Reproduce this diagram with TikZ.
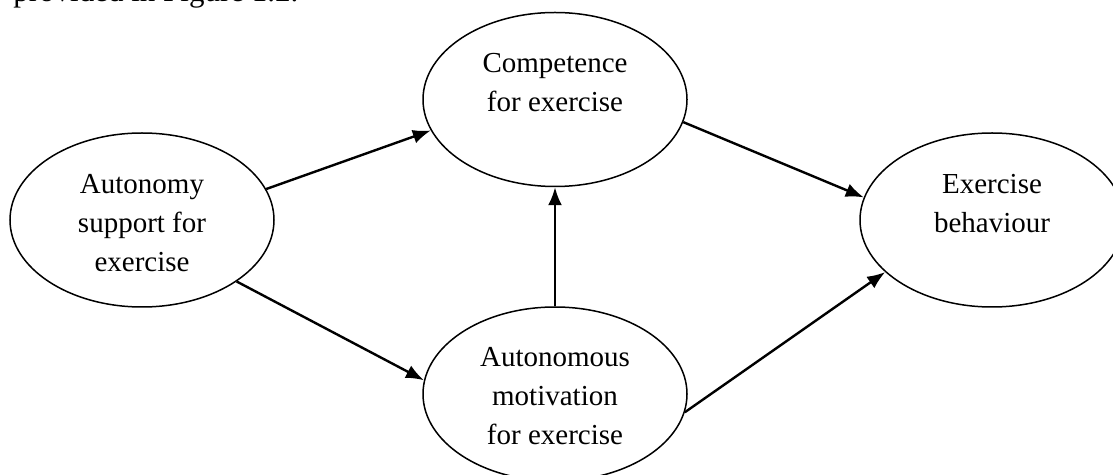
\documentclass[tikz,border=0pt]{standalone}
\usepackage{fontspec}
\setmainfont{Liberation Serif}
\usetikzlibrary{shapes.geometric,arrows.meta,positioning}

% lift the lines of a label inside its ellipse
\newcommand{\lifted}[2]{\raisebox{#1}[\height][\depth]{\begin{tabular}{@{}c@{}}#2\end{tabular}}}

\begin{document}
\begin{tikzpicture}[
    x=0.5pt, y=-0.5pt,
    font=\fontsize{14.5}{19.5}\selectfont,
    >={Latex[length=9pt,width=7pt]},
    construct/.style={ellipse, draw=black, line width=0.75pt,
                      minimum width=132pt, minimum height=87pt,
                      inner sep=0pt, align=center},
    arrow/.style={->, line width=1.2pt}
]
\useasboundingbox (0,0) rectangle (1113,475);

%–––– TEXT ABOVE –––––––––––––––––––––––––––––––––––
\node (lead) [anchor=base west, inner sep=0pt,
              font=\fontsize{15.5}{19}\selectfont] at (13,2) {provided in Figure 1.2.};

%–––– CONSTRUCTS –––––––––––––––––––––––––––––––––––
\node (auto)  [construct] at (142,220) {\lifted{-2.5pt}{Autonomy\\support for\\exercise}};
\node (motiv) [construct] at (555,394) {\lifted{-2pt}{Autonomous\\motivation\\for exercise}};
\node (comp)  [construct, above=59.5pt of motiv] {\lifted{7.5pt}{Competence\\for exercise}};
\node (beh)   [construct] at (992,220) {\lifted{7.5pt}{Exercise\\behaviour}};

%–––– PATHS ––––––––––––––––––––––––––––––––––––––––
\draw[arrow] (auto.14)  -- (comp.-166);
\draw[arrow] (auto.-33) -- (motiv.174);
\draw[arrow] (motiv)    -- (comp);
\draw[arrow] (comp.-10) -- (beh.170);
\draw[arrow] (motiv.-8) -- (beh.-154);
\end{tikzpicture}
\end{document}
